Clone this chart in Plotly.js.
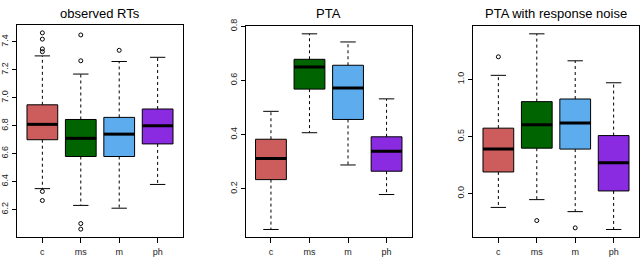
<!DOCTYPE html>
<html>
<head>
<meta charset="utf-8">
<script src="https://cdn.plot.ly/plotly-3.0.1.min.js"></script>
<style>html,body{margin:0;padding:0;background:#fff}#chart{width:640px;height:257px}</style>
</head>
<body>
<div id="chart"></div>
<script>
// ---- data ----
const categories = ["c", "ms", "m", "ph"];
const colors = ["#CD5C5C", "#006400", "#5CACEE", "#8A2BE2"];
const panelTitles = ["observed RTs", "PTA", "PTA with response noise"];

// observed RTs
const rtLower  = [6.35, 6.23, 6.21, 6.38];
const rtQ1     = [6.70, 6.58, 6.58, 6.67];
const rtMedian = [6.81, 6.71, 6.74, 6.80];
const rtQ3     = [6.95, 6.845, 6.86, 6.92];
const rtUpper  = [7.30, 7.17, 7.26, 7.29];
const rtOutliers = [[7.465, 7.42, 7.35, 7.33, 6.33, 6.265], [7.45, 7.265, 6.10, 6.06], [7.34], []];
const rtTicks = [6.2, 6.4, 6.6, 6.8, 7.0, 7.2, 7.4];

// PTA
const ptaLower  = [0.05, 0.407, 0.288, 0.179];
const ptaQ1     = [0.234, 0.568, 0.456, 0.265];
const ptaMedian = [0.312, 0.650, 0.572, 0.339];
const ptaQ3     = [0.383, 0.678, 0.656, 0.392];
const ptaUpper  = [0.486, 0.772, 0.742, 0.532];
const ptaOutliers = [[], [], [], []];
const ptaTicks = [0.2, 0.4, 0.6, 0.8];

// PTA with response noise
const noiseLower  = [-0.12, -0.052, -0.157, -0.313];
const noiseQ1     = [0.19, 0.398, 0.39, 0.024];
const noiseMedian = [0.39, 0.602, 0.619, 0.27];
const noiseQ3     = [0.573, 0.805, 0.828, 0.508];
const noiseUpper  = [1.035, 1.398, 1.162, 0.97];
const noiseOutliers = [[1.197], [-0.235], [-0.299], []];
const noiseTicks = [0.0, 0.5, 1.0];

// ---- build ----
const panels = [
  {lo: rtLower, q1: rtQ1, med: rtMedian, q3: rtQ3, hi: rtUpper, out: rtOutliers, ticks: rtTicks},
  {lo: ptaLower, q1: ptaQ1, med: ptaMedian, q3: ptaQ3, hi: ptaUpper, out: ptaOutliers, ticks: ptaTicks},
  {lo: noiseLower, q1: noiseQ1, med: noiseMedian, q3: noiseQ3, hi: noiseUpper, out: noiseOutliers, ticks: noiseTicks}
];
const W = 640, H = 257;
const xDomPx = [[17, 183], [245.5, 412], [473, 639]];
const yDomPx = [[25, 237], [26, 237.3], [26, 237.3]];

const traces = [];
const layout = {
  width: W, height: H,
  margin: {l: 0, r: 0, t: 0, b: 0},
  paper_bgcolor: "#fff", plot_bgcolor: "#fff",
  showlegend: false,
  font: {family: "Liberation Sans, Arial, sans-serif", color: "#000"},
  annotations: []
};

panels.forEach((p, k) => {
  const xa = k === 0 ? "x" : "x" + (k + 1);
  const ya = k === 0 ? "y" : "y" + (k + 1);
  const pos = categories.map((c, i) => i + 1);
  // y range with R-style 4% extension
  let all = [];
  p.lo.forEach((v, i) => { all.push(v, p.hi[i]); all = all.concat(p.out[i]); });
  const mn = Math.min(...all), mx = Math.max(...all);
  const ext = (mx - mn) * 0.04;

  categories.forEach((c, i) => {
    const x0 = pos[i];
    traces.push({
      type: "box", xaxis: xa, yaxis: ya, x: [x0],
      q1: [p.q1[i]], median: [p.med[i]], q3: [p.q3[i]],
      lowerfence: [p.q1[i]], upperfence: [p.q3[i]],
      width: 0.8, boxpoints: false, whiskerwidth: 0,
      fillcolor: colors[i], line: {color: "#000", width: 1},
      hoverinfo: "skip"
    });
    traces.push({
      type: "scatter", mode: "lines", xaxis: xa, yaxis: ya,
      x: [x0, x0, null, x0, x0], y: [p.q3[i], p.hi[i], null, p.q1[i], p.lo[i]],
      line: {color: "#000", width: 1, dash: "3px,3px"}, hoverinfo: "skip"
    });
    traces.push({
      type: "scatter", mode: "lines", xaxis: xa, yaxis: ya,
      x: [x0 - 0.2, x0 + 0.2, null, x0 - 0.2, x0 + 0.2], y: [p.hi[i], p.hi[i], null, p.lo[i], p.lo[i]],
      line: {color: "#000", width: 1}, hoverinfo: "skip"
    });
    traces.push({
      type: "scatter", mode: "lines", xaxis: xa, yaxis: ya,
      x: [x0 - 0.4, x0 + 0.4], y: [p.med[i], p.med[i]],
      line: {color: "#000", width: 3}, hoverinfo: "skip"
    });
    if (p.out[i].length) {
      traces.push({
        type: "scatter", mode: "markers", xaxis: xa, yaxis: ya,
        x: p.out[i].map(() => x0), y: p.out[i],
        marker: {symbol: "circle-open", size: 4, color: "#000", line: {width: 1, color: "#000"}},
        hoverinfo: "skip"
      });
    }
  });

  const xk = k === 0 ? "xaxis" : "xaxis" + (k + 1);
  const yk = k === 0 ? "yaxis" : "yaxis" + (k + 1);
  layout[xk] = {
    domain: [xDomPx[k][0] / W, xDomPx[k][1] / W],
    anchor: ya, range: [0.34, 4.66],
    tickmode: "array", tickvals: pos, ticktext: categories,
    ticks: "outside", ticklen: 5, tickwidth: 1, tickcolor: "#000",
    showline: true, mirror: true, linecolor: "#000", linewidth: 1,
    showgrid: false, zeroline: false,
    tickfont: {size: 9, color: "#222"}, ticklabelstandoff: 1
  };
  layout[yk] = {
    domain: [1 - yDomPx[k][1] / H, 1 - yDomPx[k][0] / H],
    anchor: xa, range: [mn - ext, mx + ext],
    tickmode: "array", tickvals: p.ticks, ticktext: p.ticks.map(v => v.toFixed(1)),
    tickangle: -90,
    ticks: "outside", ticklen: 4, tickwidth: 1, tickcolor: "#000",
    showline: true, mirror: true, linecolor: "#000", linewidth: 1,
    showgrid: false, zeroline: false,
    tickfont: {size: 9, color: "#222"}, ticklabelstandoff: 0
  };
  layout.annotations.push({
    text: panelTitles[k], xref: "paper", yref: "paper",
    x: (xDomPx[k][0] + xDomPx[k][1]) / 2 / W, y: 1 - 13 / H,
    xanchor: "center", yanchor: "middle", showarrow: false,
    font: {size: 13, color: "#000", family: "Liberation Sans, Arial, sans-serif"}
  });
});

Plotly.newPlot("chart", traces, layout, {staticPlot: true, displayModeBar: false});
</script>
</body>
</html>
